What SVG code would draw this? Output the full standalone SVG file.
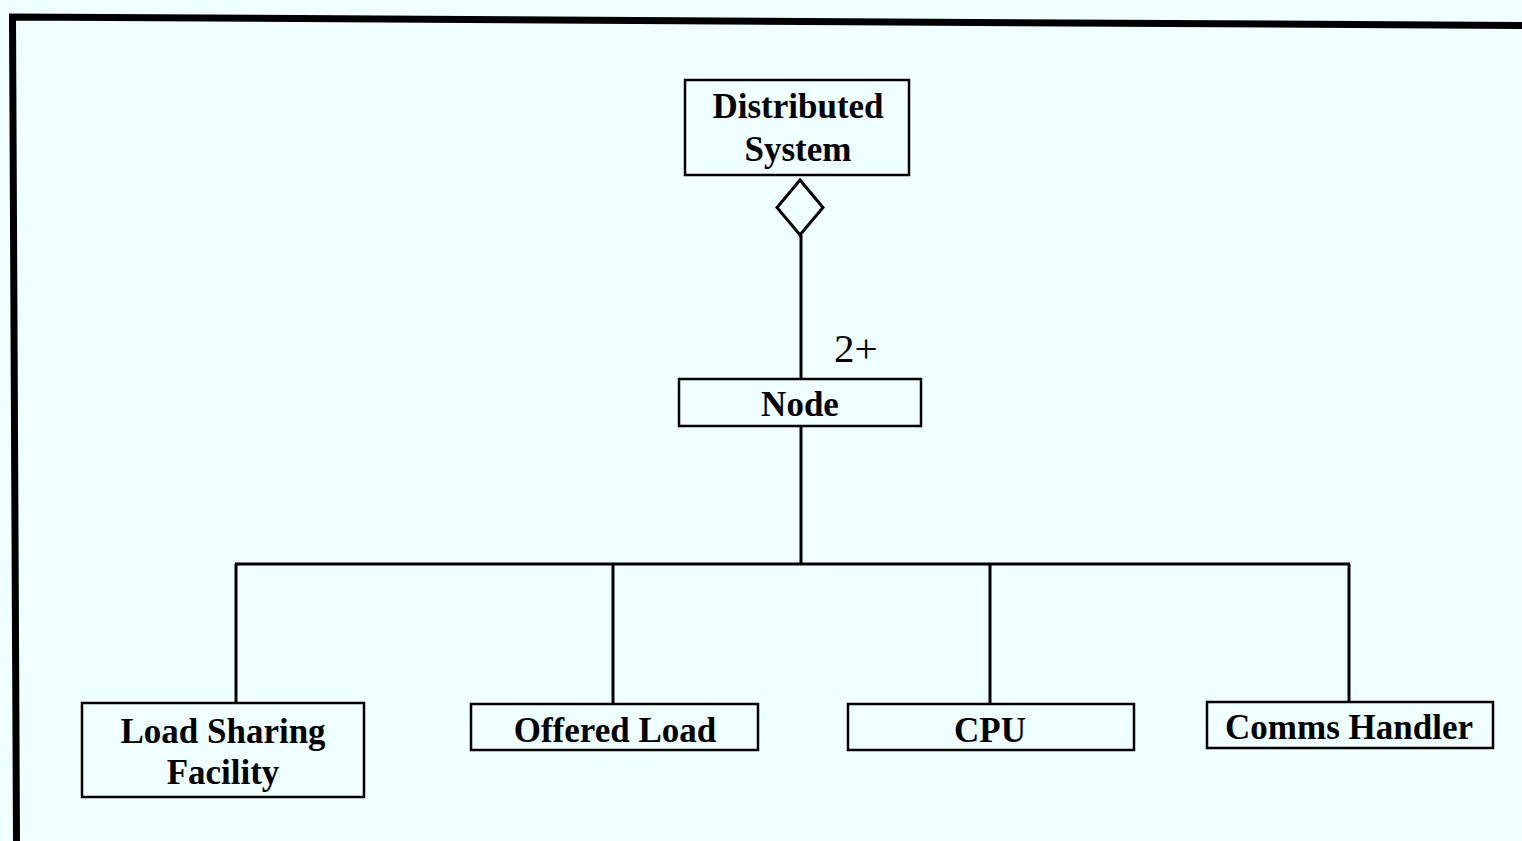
<svg xmlns="http://www.w3.org/2000/svg" width="1522" height="841" viewBox="0 0 1522 841">
  <style>
    .box { fill: none; stroke: #000; stroke-width: 2.5; }
    .lbl { font-family: "Liberation Serif", "Times New Roman", serif; font-weight: bold; font-size: 35px; fill: #000; text-anchor: middle; }
    .mult { font-family: "Liberation Serif", "Times New Roman", serif; font-size: 41px; fill: #000; }
    .wire { fill: none; stroke: #000; stroke-width: 3; }
  </style>
  <rect x="0" y="0" width="1522" height="841" fill="#f0ffff"/>
  <!-- outer frame -->
  <g id="frame" fill="none" stroke="#000" stroke-width="7">
    <path d="M16.5 841 L12.5 17 L1522 25.5"/>
  </g>

  <g id="connectors">
    <!-- aggregation: Distributed System -> Node -->
    <path class="wire" d="M800 180 L823 207.5 L800 235 L777 207.5 Z"/>
    <path class="wire" d="M801 235 L801 379"/>
    <text class="mult" x="834" y="362">2+</text>
    <!-- composition tree under Node -->
    <path class="wire" d="M801 427 L801 564"/>
    <path class="wire" d="M235 564 L1350 564"/>
    <path class="wire" d="M236 564 L236 703"/>
    <path class="wire" d="M613 564 L613 704"/>
    <path class="wire" d="M990 564 L990 704"/>
    <path class="wire" d="M1349 564 L1349 702"/>
  </g>

  <g id="distributed-system">
    <rect class="box" x="685" y="80" width="224" height="95"/>
    <text class="lbl" x="798" y="118">Distributed</text>
    <text class="lbl" x="798" y="161">System</text>
  </g>

  <g id="node">
    <rect class="box" x="679" y="379" width="242" height="47"/>
    <text class="lbl" x="800" y="416">Node</text>
  </g>

  <g id="load-sharing-facility">
    <rect class="box" x="82" y="703" width="282" height="94"/>
    <text class="lbl" x="223" y="743">Load Sharing</text>
    <text class="lbl" x="223" y="784">Facility</text>
  </g>

  <g id="offered-load">
    <rect class="box" x="471" y="704" width="287" height="46"/>
    <text class="lbl" x="615" y="742">Offered Load</text>
  </g>

  <g id="cpu">
    <rect class="box" x="848" y="704" width="286" height="46"/>
    <text class="lbl" x="990" y="742">CPU</text>
  </g>

  <g id="comms-handler">
    <rect class="box" x="1207" y="702" width="286" height="46"/>
    <text class="lbl" x="1349" y="739">Comms Handler</text>
  </g>
</svg>
